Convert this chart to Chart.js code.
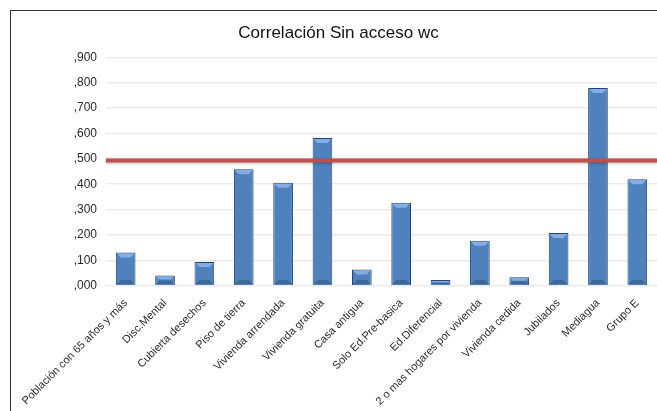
<!DOCTYPE html>
<html>
<head>
<meta charset="utf-8">
<script src="https://cdn.jsdelivr.net/npm/chart.js@4/dist/chart.umd.min.js"></script>
<style>
  body { margin: 0; background: #fff; }
  #wrap { position: relative; width: 657px; height: 411px; overflow: hidden; }
  #frame { position: absolute; left: 10px; top: 10px; width: 700px; height: 500px; border: 1px solid #333; box-sizing: border-box; }
  canvas { position: absolute; left: 0; top: 0; }
</style>
</head>
<body>
<div id="wrap">
  <div id="frame"></div>
  <canvas id="corrChart" width="657" height="411"></canvas>
</div>
<script>
const categories = [
  'Población con 65 años y más', 'Disc.Mental', 'Cubierta desechos', 'Piso de tierra',
  'Vivienda arrendada', 'Vivienda gratuita', 'Casa antigua', 'Solo Ed.Pre-basica',
  'Ed.Diferencial', '2 o mas hogares por vivienda', 'Vivienda cedida', 'Jubilados',
  'Mediagua', 'Grupo E'
];
const correlations = [0.131, 0.040, 0.093, 0.459, 0.406, 0.582, 0.064, 0.327,
                      0.022, 0.177, 0.033, 0.208, 0.779, 0.419];
const threshold = 0.493;

// horizontal gradient: light left side, dark right edge
function barFill(context) {
  const el = context.element;
  if (!el || el.width === undefined) return '#4f81bd';
  const x0 = el.x - el.width / 2, x1 = el.x + el.width / 2;
  const g = context.chart.ctx.createLinearGradient(x0, 0, x1, 0);
  g.addColorStop(0, '#3a66a2');
  g.addColorStop(0.15, '#5a8dcf');
  g.addColorStop(0.55, '#5488ca');
  g.addColorStop(0.8, '#3d6cab');
  g.addColorStop(1, '#1a3354');
  return g;
}

// bevel: light cap at the top, faint shade at the bottom
const barBevel = {
  id: 'barBevel',
  afterDatasetsDraw(chart) {
    const ctx = chart.ctx;
    chart.getDatasetMeta(0).data.forEach(bar => {
      const l = bar.x - bar.width / 2, r = bar.x + bar.width / 2;
      const top = bar.y, bot = bar.base;
      const d = Math.min(4, (bot - top) / 3);
      ctx.save();
      ctx.fillStyle = 'rgba(150,190,240,0.75)';
      ctx.beginPath();
      ctx.moveTo(l + 1, top + 1);
      ctx.lineTo(r - 1, top + 1);
      ctx.lineTo(r - 1 - d, top + 1 + d);
      ctx.lineTo(l + 1 + d, top + 1 + d);
      ctx.closePath();
      ctx.fill();
      ctx.fillStyle = 'rgba(20,40,70,0.3)';
      ctx.beginPath();
      ctx.moveTo(l + 1, bot - 1);
      ctx.lineTo(r - 1, bot - 1);
      ctx.lineTo(r - 1 - d, bot - 1 - d);
      ctx.lineTo(l + 1 + d, bot - 1 - d);
      ctx.closePath();
      ctx.fill();
      ctx.restore();
    });
  }
};

// red reference line across the full plot width
const thresholdLine = {
  id: 'thresholdLine',
  afterDatasetsDraw(chart) {
    const { ctx, chartArea, scales } = chart;
    const y = scales.y.getPixelForValue(threshold);
    ctx.save();
    ctx.shadowColor = 'rgba(0,0,0,0.3)';
    ctx.shadowBlur = 3;
    ctx.shadowOffsetY = 1;
    ctx.strokeStyle = '#c0504d';
    ctx.lineWidth = 4;
    ctx.beginPath();
    ctx.moveTo(chartArea.left, y);
    ctx.lineTo(chartArea.right, y);
    ctx.stroke();
    ctx.restore();
  }
};

new Chart(document.getElementById('corrChart'), {
  type: 'bar',
  data: {
    labels: categories,
    datasets: [{
      data: correlations,
      backgroundColor: barFill,
      borderColor: '#24446e',
      borderWidth: 1,
      categoryPercentage: 1.0,
      barPercentage: 0.5
    }]
  },
  options: {
    responsive: false,
    animation: false,
    layout: { padding: { left: 20, right: 0, top: 23, bottom: 0 } },
    plugins: {
      legend: { display: false },
      tooltip: { enabled: false },
      title: {
        display: true,
        text: 'Correlación Sin acceso wc',
        color: '#111',
        font: { family: 'Liberation Sans, Arial', size: 17, weight: 'normal' },
        padding: { top: 0, bottom: 14 }
      }
    },
    scales: {
      x: {
        grid: { display: false },
        border: { display: false },
        ticks: {
          minRotation: 45, maxRotation: 45,
          color: '#2a2a2a',
          font: { family: 'Liberation Sans, Arial', size: 11 }
        }
      },
      y: {
        min: 0, max: 0.9,
        afterFit(scale) { scale.width = 86; },
        grid: { color: '#ebebeb', lineWidth: 1.5, drawTicks: false },
        border: { display: false },
        ticks: {
          stepSize: 0.1,
          padding: 9,
          color: '#2a2a2a',
          font: { family: 'Liberation Sans, Arial', size: 12 },
          callback: v => ',' + v.toFixed(3).split('.')[1]
        }
      }
    }
  },
  plugins: [barBevel, thresholdLine]
});
</script>
</body>
</html>
